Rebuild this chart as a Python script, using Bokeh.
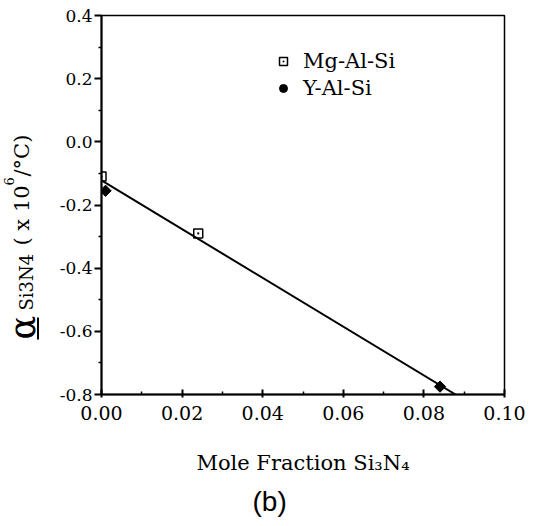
import math
import numpy as np
from bokeh.plotting import figure
from bokeh.layouts import row
from bokeh.core.properties import value
from bokeh.models import (Range1d, FixedTicker, PrintfTickFormatter,
                          Legend, LegendItem, Title)
from bokeh.embed import file_html
from bokeh.resources import INLINE

# Thermal expansion coefficient of Si3N4 vs. its mole fraction
mg_x = [0.000, 0.024]
mg_y = [-0.11, -0.29]
yal_x = [0.001, 0.084]
yal_y = [-0.155, -0.775]

x_ticks = [0.00, 0.02, 0.04, 0.06, 0.08, 0.10]
x_minor = [0.01, 0.03, 0.05, 0.07, 0.09]
y_ticks = [-0.8, -0.6, -0.4, -0.2, 0.0, 0.2, 0.4]
y_minor = [-0.7, -0.5, -0.3, -0.1, 0.1, 0.3]

SERIF = "DejaVu Serif"
W, H = 533, 526
LW = 46                      # strip holding the vertical axis title
TOP, BOTTOM = 15, 132        # borders shared by both panels
FRAME_L = 101

# ---- main plot -------------------------------------------------------------
p = figure(width=W - LW, height=H, output_backend="svg", toolbar_location=None,
           x_range=Range1d(0.0, 0.10), y_range=Range1d(-0.8, 0.4),
           min_border_left=FRAME_L - LW, min_border_right=29,
           min_border_top=TOP, min_border_bottom=BOTTOM)
p.grid.visible = False
p.outline_line_color = "black"
p.outline_line_width = 1.5
p.background_fill_color = "white"
p.border_fill_color = "white"

for ax in (p.xaxis, p.yaxis):
    ax.axis_line_color = "black"
    ax.axis_line_width = 2
    ax.major_tick_line_color = "black"
    ax.major_tick_line_width = 2
    ax.minor_tick_line_color = "black"
    ax.minor_tick_line_width = 1.5
    ax.major_label_text_font = SERIF
    ax.major_label_text_color = "black"

p.xaxis.ticker = FixedTicker(ticks=x_ticks, minor_ticks=x_minor)
p.xaxis.formatter = PrintfTickFormatter(format="%.2f")
p.xaxis.major_label_text_font_size = "19px"
p.xaxis.major_tick_in = 5
p.xaxis.major_tick_out = 3
p.xaxis.minor_tick_in = 3
p.xaxis.minor_tick_out = 0
p.xaxis.major_label_standoff = 8
p.xaxis.axis_label = "Mole Fraction Si₃N₄"
p.xaxis.axis_label_text_font = SERIF
p.xaxis.axis_label_text_font_size = "21px"
p.xaxis.axis_label_text_font_style = "normal"
p.xaxis.axis_label_text_color = "black"
p.xaxis.axis_label_standoff = 28

p.yaxis.ticker = FixedTicker(ticks=y_ticks, minor_ticks=y_minor)
p.yaxis.formatter = PrintfTickFormatter(format="%.1f")
p.yaxis.major_label_text_font_size = "17px"
p.yaxis.major_tick_in = 0
p.yaxis.major_tick_out = 7
p.yaxis.minor_tick_in = 0
p.yaxis.minor_tick_out = 3
p.yaxis.major_label_standoff = 2

# panel tag under the axis title
p.add_layout(Title(text="(b)", align="left", offset=151, standoff=13,
                   text_font="Liberation Sans", text_font_size="28px",
                   text_font_style="normal", text_color="black"), "below")

# least-squares line through all points, drawn down to the lower axis
all_x = np.array(mg_x + yal_x)
all_y = np.array(mg_y + yal_y)
slope, icpt = np.polyfit(all_x, all_y, 1)
x_end = (p.y_range.start - icpt) / slope
p.line([0.0, x_end], [icpt, icpt + slope * x_end], line_color="black", line_width=2)

r_mg = p.scatter(mg_x, mg_y, marker="square_dot", size=9, fill_color=None,
                 line_color="black", line_width=1.5)
p.scatter(yal_x, yal_y, marker="square", angle=math.pi / 4, size=8,
          fill_color="black", line_color="black")
# legend swatch for the Y-Al-Si series (not drawn in the plot area)
r_yleg = p.scatter(yal_x, yal_y, marker="circle", size=9, fill_color="black",
                   line_color="black", visible=False)

legend = Legend(items=[LegendItem(label="Mg-Al-Si", renderers=[r_mg]),
                       LegendItem(label="Y-Al-Si", renderers=[r_yleg])],
                location=(172, 294), padding=0, spacing=3, margin=0,
                glyph_width=20, glyph_height=20, label_standoff=10,
                label_text_font=SERIF, label_text_font_size="21px",
                label_text_color="black", border_line_color=None,
                background_fill_alpha=0, inactive_fill_alpha=0)
p.add_layout(legend, "center")

# ---- vertical axis title: underlined alpha, Si3N4 subscript, units ---------
lf = figure(width=LW, height=H, output_backend="svg", toolbar_location=None,
            x_range=Range1d(0, LW), y_range=Range1d(BOTTOM, H - TOP),
            x_axis_type=None, y_axis_type=None, min_border_left=0,
            min_border_right=0, min_border_top=TOP, min_border_bottom=BOTTOM)
lf.grid.visible = False
lf.outline_line_color = None
lf.background_fill_color = "white"
lf.border_fill_color = "white"


def put(x, y, text, size):
    """Vertical text centred on strip column x, starting at page row y."""
    lf.text(x=[x], y=[H - y], text=[text], angle=math.pi / 2,
            text_font=value(SERIF), text_font_size=value(size), text_color="black",
            text_align="left", text_baseline="middle")


put(22, 339, "α", "35px")
lf.line([37.5, 37.5], [H - 339, H - 317], line_color="black", line_width=2)
put(26, 310, "Si3N4", "18px")
put(21, 245, "( x 10", "21px")
put(8, 185, "6", "13px")
put(21, 176, "/°C)", "21px")

page = row(lf, p, spacing=0)

with open("out.html", "w") as f:
    f.write(file_html(page, INLINE))
